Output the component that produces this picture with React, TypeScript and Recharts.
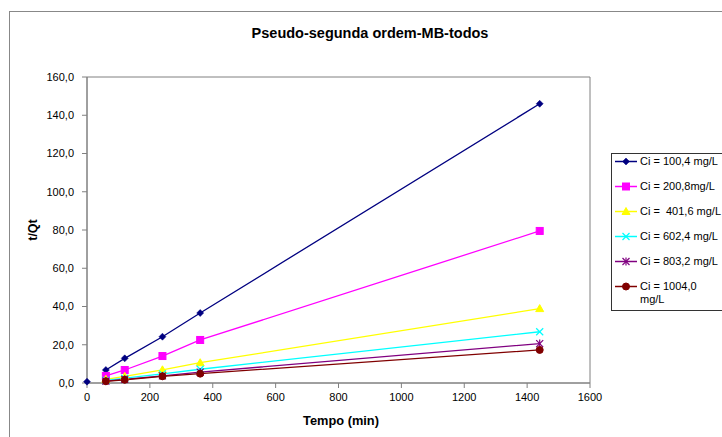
import React from 'react';
import { ComposedChart, Line, XAxis, YAxis, Legend, ReferenceArea, Customized } from 'recharts';

const times = [60, 120, 240, 360, 1440];
const ci100 = [6.8, 12.9, 24.2, 36.6, 146.0];
const ci200 = [3.7, 6.8, 14.1, 22.5, 79.5];
const ci401 = [1.9, 3.5, 6.9, 10.6, 38.9];
const ci602 = [1.3, 2.5, 4.8, 7.2, 26.8];
const ci803 = [1.0, 1.9, 3.7, 5.7, 20.6];
const ci1004 = [0.9, 1.7, 3.5, 4.9, 17.3];
const originTime = 0;
const originValue = 0.7;

const seriesNames = [
  'Ci = 100,4 mg/L',
  'Ci = 200,8mg/L',
  'Ci =  401,6 mg/L',
  'Ci = 602,4 mg/L',
  'Ci = 803,2 mg/L',
  'Ci = 1004,0 mg/L',
];
const seriesColors = ['#000080', '#FF00FF', '#FFFF00', '#00FFFF', '#800080', '#800000'];
const seriesShapes = ['diamond', 'square', 'triangle', 'x', 'star', 'circle'];
const seriesValues = [ci100, ci200, ci401, ci602, ci803, ci1004];

const xTicks = [0, 200, 400, 600, 800, 1000, 1200, 1400, 1600];
const yTicks = [0, 20, 40, 60, 80, 100, 120, 140, 160];

const data: any[] = [{ t: originTime, b0: originValue }].concat(
  times.map((t, i) => {
    const row: any = { t };
    seriesValues.forEach((vals, k) => {
      row['s' + k] = vals[i];
    });
    return row;
  })
);

const FONT = "Arial, 'Liberation Sans', sans-serif";

function Marker({ shape, color, cx, cy }: { shape: string; color: string; cx: number; cy: number }) {
  if (cx == null || cy == null || isNaN(cx) || isNaN(cy)) return null;
  switch (shape) {
    case 'diamond':
      return <polygon points={`${cx},${cy - 3.5} ${cx + 3.5},${cy} ${cx},${cy + 3.5} ${cx - 3.5},${cy}`} fill={color} stroke={color} strokeWidth={0.5} />;
    case 'square':
      return <rect x={cx - 3.5} y={cy - 3.5} width={7} height={7} fill={color} stroke={color} />;
    case 'triangle':
      return <polygon points={`${cx},${cy - 4} ${cx + 4},${cy + 3} ${cx - 4},${cy + 3}`} fill={color} stroke={color} />;
    case 'x':
      return (
        <g stroke={color} strokeWidth={1.2}>
          <line x1={cx - 3.5} y1={cy - 3.5} x2={cx + 3.5} y2={cy + 3.5} />
          <line x1={cx - 3.5} y1={cy + 3.5} x2={cx + 3.5} y2={cy - 3.5} />
        </g>
      );
    case 'star':
      return (
        <g stroke={color} strokeWidth={1.2}>
          <line x1={cx - 3.5} y1={cy - 3.5} x2={cx + 3.5} y2={cy + 3.5} />
          <line x1={cx - 3.5} y1={cy + 3.5} x2={cx + 3.5} y2={cy - 3.5} />
          <line x1={cx} y1={cy - 4} x2={cx} y2={cy + 4} />
        </g>
      );
    default:
      return <circle cx={cx} cy={cy} r={3.5} fill={color} stroke={color} />;
  }
}

const makeDot = (shape: string, color: string) => (props: any) => (
  <Marker key={props.key ?? `${shape}-${props.index}`} shape={shape} color={color} cx={props.cx} cy={props.cy} />
);

function LegendBox() {
  return (
    <div
      style={{
        border: '1px solid #333',
        background: '#fff',
        width: 140,
        paddingTop: 1,
        paddingBottom: 4,
        fontFamily: FONT,
        fontSize: 11,
        color: '#000',
      }}
    >
      {seriesNames.map((name, i) => (
        <div key={name} style={{ display: 'flex', alignItems: 'flex-start', height: i === seriesNames.length - 1 ? 26 : 25 }}>
          <svg width={25} height={13} style={{ flex: 'none', marginLeft: 3 }}>
            <line x1={0} y1={6.5} x2={22} y2={6.5} stroke={seriesColors[i]} strokeWidth={1.5} />
            <Marker shape={seriesShapes[i]} color={seriesColors[i]} cx={11} cy={6.5} />
          </svg>
          <span style={{ lineHeight: '13px', width: 82, whiteSpace: 'pre-wrap' }}>{name}</span>
        </div>
      ))}
    </div>
  );
}

const Texts = () => (
  <g fontFamily={FONT} fontWeight="bold" fill="#000">
    <text x={362} y={25} textAnchor="middle" dominantBaseline="central" fontSize={14.5}>
      Pseudo-segunda ordem-MB-todos
    </text>
    <text x={333} y={412} textAnchor="middle" dominantBaseline="central" fontSize={12.8}>
      Tempo (min)
    </text>
    <text x={25} y={222} textAnchor="middle" dominantBaseline="central" fontSize={12.5} transform="rotate(-90 25 222)">
      t/Qt
    </text>
  </g>
);

export default function App() {
  return (
    <div style={{ position: 'fixed', left: 8, top: 8, width: 714, height: 429, overflow: 'hidden', background: '#fff' }}>
      <div
        style={{
          position: 'absolute',
          left: 1,
          top: 3,
          width: 800,
          height: 500,
          border: '1px solid #888',
          boxSizing: 'border-box',
          pointerEvents: 'none',
        }}
      />
      <ComposedChart
        width={714}
        height={429}
        data={data}
        margin={{ top: 69, right: 132, bottom: 4, left: 19 }}
        style={{ position: 'absolute', left: 0, top: 0 }}
      >
        <ReferenceArea x1={0} x2={1600} y1={0} y2={160} fill="none" stroke="#808080" strokeWidth={1} ifOverflow="visible" />
        <XAxis
          type="number"
          dataKey="t"
          domain={[0, 1600]}
          ticks={xTicks}
          height={50}
          tickSize={5}
          tickMargin={5}
          stroke="#808080"
          tick={{ fill: '#000', fontSize: 11, fontFamily: FONT }}
          interval={0}
        />
        <YAxis
          type="number"
          domain={[0, 160]}
          ticks={yTicks}
          width={60}
          tickSize={5}
          tickMargin={8}
          stroke="#808080"
          tick={{ fill: '#000', fontSize: 11, fontFamily: FONT }}
          tickFormatter={(v: number) => v.toFixed(1).replace('.', ',')}
          interval={0}
        />
        <Line
          dataKey="b0"
          stroke="none"
          legendType="none"
          isAnimationActive={false}
          dot={makeDot('diamond', seriesColors[0])}
          activeDot={false}
        />
        {seriesNames.map((name, k) => (
          <Line
            key={name}
            name={name}
            dataKey={'s' + k}
            stroke={seriesColors[k]}
            strokeWidth={1.3}
            isAnimationActive={false}
            dot={makeDot(seriesShapes[k], seriesColors[k])}
            activeDot={false}
          />
        ))}
        <Legend
          layout="vertical"
          align="center"
          verticalAlign="middle"
          wrapperStyle={{ left: 603, top: 145, width: 145 }}
          content={() => <LegendBox />}
        />
        <Customized component={Texts} />
      </ComposedChart>
    </div>
  );
}
